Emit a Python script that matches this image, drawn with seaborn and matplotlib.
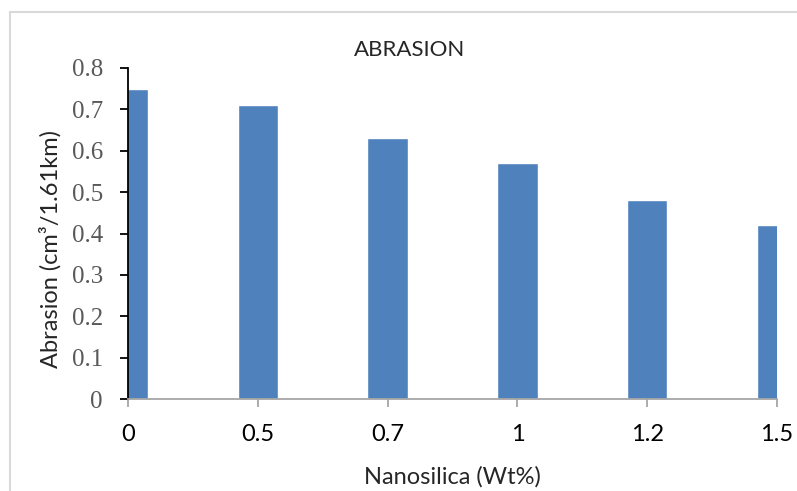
import matplotlib
matplotlib.use("Agg")
import matplotlib.pyplot as plt
import seaborn as sns
import pandas as pd
from matplotlib.lines import Line2D

categories = ["0", "0.5", "0.7", "1", "1.2", "1.5"]
abrasion = [0.75, 0.71, 0.63, 0.57, 0.48, 0.42]
yticks = [0, 0.1, 0.2, 0.3, 0.4, 0.5, 0.6, 0.7, 0.8]

df = pd.DataFrame({"Nanosilica": categories, "Abrasion": abrasion})

sns.set_style("white")
plt.rcParams['font.family'] = ['Lato', 'DejaVu Sans']

fig = plt.figure(figsize=(7.97, 4.91), dpi=100)
L, R, T, B = 128, 777, 68, 399
ax = fig.add_axes([L/797, 1-B/491, (R-L)/797, (B-T)/491])

sns.barplot(data=df, x="Nanosilica", y="Abrasion", color="#4F81BD",
            width=0.3125, saturation=1, ax=ax, errorbar=None)
ax.set_xlim(0, 5)
ax.set_ylim(0, 0.8)
ax.set_yticks(yticks)
ax.set_yticklabels([f"{v:g}" for v in yticks], family="Liberation Serif",
                   color="#595959", fontsize=18)
ax.set_xticks(range(len(categories)))
ax.set_xticklabels(categories, fontsize=17, color="black")

for s in ["top", "right"]:
    ax.spines[s].set_visible(False)
ax.spines["left"].set_color("black")
ax.spines["left"].set_linewidth(1.3)
ax.spines["bottom"].set_color("#A6A6A6")
ax.spines["bottom"].set_linewidth(1.3)
ax.tick_params(axis="y", direction="out", length=6, width=1.3, color="black", left=True, pad=12)
ax.tick_params(axis="x", direction="out", length=6, width=1.3, color="#A6A6A6", bottom=True, pad=12)

ax.set_xlabel("Nanosilica (Wt%)", fontsize=17, va="center")
ax.xaxis.set_label_coords((452-L)/(R-L), (B-477)/(B-T))
ax.set_ylabel("Abrasion (cm³/1.61km)", fontsize=17, va="center")
ax.yaxis.set_label_coords((50-L)/(R-L), (B-249)/(B-T))
fig.text(410/797, 1-50/491, "ABRASION", ha="center", va="center", fontsize=16)

# figure frame (left and top edges visible)
fig.add_artist(Line2D([10/797, 10/797], [0, 1-12/491], transform=fig.transFigure,
                      color="#D9D9D9", lw=1.5))
fig.add_artist(Line2D([10/797, 1], [1-12/491, 1-12/491], transform=fig.transFigure,
                      color="#D9D9D9", lw=1.5))

fig.savefig("out.png", dpi=100)
